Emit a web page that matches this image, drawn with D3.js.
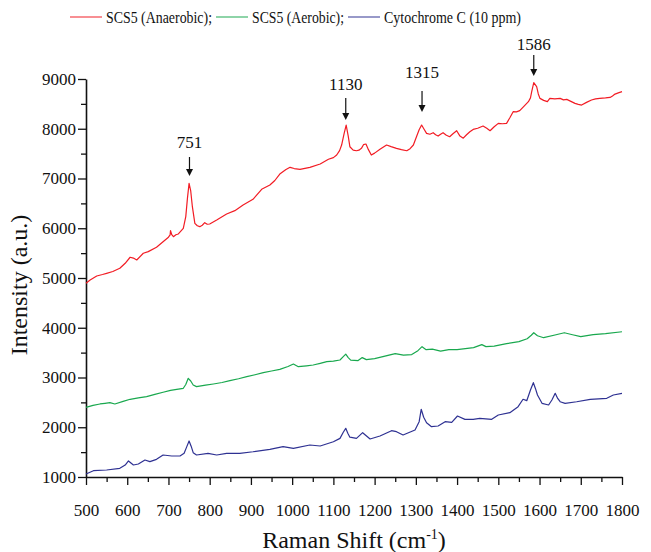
<!DOCTYPE html>
<html>
<head>
<meta charset="utf-8">
<script src="https://cdn.jsdelivr.net/npm/d3@7"></script>
<style>
  body { margin: 0; background: #fff; }
  svg text { font-family: "Liberation Serif", "Times New Roman", serif; fill: #111; }
</style>
</head>
<body>
<div id="chart"></div>
<script>
// series: [raman shift, intensity]
const anaerobic = [
  [500,4894],[510,4960],[526,5040],[540,5070],[550,5094],[565,5130],[582,5195],[595,5296],[607,5417],[615,5400],
  [623,5362],[639,5497],[651,5530],[671,5618],[692,5764],[700,5820],[704,5865],[705,5952],[708,5870],[712,5831],
  [718,5870],[724,5885],[736,5999],[742,6234],[746,6600],[750,6904],[754,6750],[758,6433],[764,6099],[770,6050],
  [776,6032],[782,6060],[788,6113],[794,6080],[800,6086],[817,6166],[841,6287],[861,6354],[881,6469],[905,6582],
  [926,6783],[946,6870],[958,6960],[970,7090],[985,7180],[995,7225],[1005,7200],[1019,7185],[1043,7225],[1068,7292],
  [1088,7386],[1100,7420],[1108,7472],[1115,7560],[1120,7673],[1126,7900],[1131,8075],[1136,7850],[1140,7639],[1148,7570],
  [1156,7558],[1162,7570],[1168,7606],[1173,7680],[1179,7693],[1185,7580],[1192,7472],[1200,7510],[1213,7586],[1229,7673],
  [1240,7640],[1253,7606],[1265,7580],[1278,7558],[1286,7600],[1294,7673],[1302,7850],[1308,7980],[1314,8075],[1320,7990],
  [1326,7907],[1334,7890],[1342,7920],[1348,7880],[1354,7853],[1360,7890],[1366,7920],[1374,7870],[1382,7840],[1390,7900],
  [1399,7960],[1407,7853],[1415,7810],[1423,7880],[1431,7940],[1439,7987],[1450,8010],[1463,8055],[1472,8010],[1480,7960],
  [1490,8040],[1500,8108],[1510,8100],[1520,8108],[1528,8220],[1536,8343],[1544,8340],[1552,8363],[1562,8450],[1573,8544],
  [1578,8620],[1581,8745],[1586,8926],[1593,8845],[1597,8700],[1601,8610],[1610,8570],[1619,8544],[1625,8610],[1637,8600],
  [1650,8610],[1658,8580],[1666,8590],[1676,8550],[1686,8510],[1694,8490],[1702,8476],[1714,8530],[1726,8577],[1736,8600],
  [1746,8610],[1760,8620],[1771,8630],[1777,8660],[1783,8697],[1791,8720],[1800,8745]
];
const aerobic = [
  [500,2401],[517,2440],[534,2468],[546,2480],[558,2494],[570,2468],[590,2520],[607,2562],[627,2590],[647,2615],
  [667,2660],[687,2703],[705,2740],[720,2763],[736,2783],[742,2860],[748,2984],[754,2930],[760,2850],[768,2816],
  [790,2845],[809,2870],[830,2900],[849,2936],[870,2975],[890,3016],[910,3055],[930,3097],[950,3130],[970,3164],
  [990,3220],[1003,3271],[1015,3217],[1035,3235],[1051,3251],[1068,3285],[1084,3318],[1100,3330],[1116,3352],[1124,3420],
  [1130,3470],[1136,3400],[1142,3350],[1160,3340],[1170,3400],[1180,3360],[1200,3380],[1230,3440],[1250,3480],[1270,3450],
  [1290,3460],[1305,3540],[1315,3620],[1325,3560],[1340,3570],[1360,3530],[1380,3560],[1400,3560],[1420,3580],[1440,3600],
  [1460,3660],[1470,3620],[1490,3630],[1520,3680],[1550,3720],[1570,3780],[1580,3850],[1586,3900],[1595,3840],[1610,3800],
  [1640,3860],[1660,3900],[1680,3860],[1700,3820],[1730,3860],[1760,3880],[1800,3920]
];
const cytochrome = [
  [500,1060],[518,1127],[550,1141],[582,1175],[595,1241],[603,1322],[615,1241],[627,1261],[643,1342],[655,1308],
  [671,1355],[687,1442],[708,1422],[728,1422],[738,1476],[744,1600],[750,1724],[755,1620],[760,1489],[768,1442],
  [796,1476],[817,1442],[841,1476],[873,1476],[905,1508],[946,1557],[978,1610],[1003,1577],[1043,1643],[1068,1623],
  [1100,1709],[1116,1777],[1124,1900],[1130,1978],[1135,1880],[1140,1800],[1156,1777],[1171,1891],[1189,1764],[1213,1824],
  [1241,1931],[1253,1911],[1269,1844],[1298,1945],[1308,2112],[1313,2361],[1319,2200],[1326,2092],[1338,2011],[1354,2025],
  [1371,2112],[1387,2099],[1401,2226],[1419,2159],[1439,2159],[1455,2179],[1484,2159],[1500,2246],[1528,2293],[1548,2413],
  [1560,2562],[1569,2534],[1578,2750],[1585,2896],[1590,2780],[1595,2648],[1606,2481],[1622,2447],[1630,2548],[1638,2682],
  [1644,2580],[1650,2513],[1662,2481],[1690,2513],[1723,2562],[1763,2582],[1779,2648],[1800,2682]
];

const seriesNames = ["SCS5 (Anaerobic);", "SCS5 (Aerobic);", "Cytochrome C (10 ppm)"];
const seriesColors = ["#f21c24", "#19a84e", "#2e3192"];

const peakLabels = ["751", "1130", "1315", "1586"];
const peakShifts = [751, 1130, 1315, 1586];
// arrow tip / arrow tail / label baseline, in intensity units
const peakTips = [7050, 8176, 8337, 9060];
const peakTails = [7432, 8618, 8759, 9482];
const peakTextY = [7613, 8779, 9020, 9583];

const xTicks = d3.range(500, 1801, 100);
const yTicks = d3.range(1000, 9001, 1000);

const serif = "Liberation Serif";
const width = 651, height = 552;
const margin = {left: 86, right: 29, top: 79, bottom: 75};

const svg = d3.select("#chart").append("svg")
  .attr("width", width).attr("height", height)
  .style("background", "#fff");

const x = d3.scaleLinear().domain([500, 1800]).range([margin.left, width - margin.right]);
const y = d3.scaleLinear().domain([1000, 9000]).range([height - margin.bottom, margin.top]);

// minor ticks
svg.append("g")
  .attr("transform", `translate(0,${y(1000)})`)
  .call(d3.axisBottom(x).tickValues(d3.range(550, 1800, 100)).tickSize(5).tickFormat(""))
  .call(g => g.select(".domain").remove())
  .call(g => g.selectAll("line").attr("stroke", "#111").attr("stroke-width", 1.3));
svg.append("g")
  .attr("transform", `translate(${x(500)},0)`)
  .call(d3.axisLeft(y).tickValues(d3.range(1500, 9000, 1000)).tickSize(5).tickFormat(""))
  .call(g => g.select(".domain").remove())
  .call(g => g.selectAll("line").attr("stroke", "#111").attr("stroke-width", 1.3));

// major axes
const xAxis = svg.append("g")
  .attr("transform", `translate(0,${y(1000)})`)
  .call(d3.axisBottom(x).tickValues(xTicks).tickSize(8).tickSizeOuter(0).tickPadding(19).tickFormat(d3.format("d")));
const yAxis = svg.append("g")
  .attr("transform", `translate(${x(500)},0)`)
  .call(d3.axisLeft(y).tickValues(yTicks).tickSize(8).tickSizeOuter(0).tickPadding(2).tickFormat(d3.format("d")));

[xAxis, yAxis].forEach(g => {
  g.attr("font-size", 17);
  g.select(".domain").attr("stroke", "#111").attr("stroke-width", 1.6);
  g.selectAll(".tick line").attr("stroke", "#111").attr("stroke-width", 1.3);
  g.selectAll(".tick text").style("font-family", serif).attr("fill", "#222");
});

// axis titles
svg.append("text")
  .attr("x", (x(500) + x(1800)) / 2).attr("y", 548)
  .attr("text-anchor", "middle").attr("font-size", 24)
  .html('Raman Shift (cm<tspan dy="-9" font-size="14">-1</tspan><tspan dy="9">)</tspan>');
svg.append("text")
  .attr("transform", `translate(27,${(y(1000) + y(9000)) / 2 + 7}) rotate(-90)`)
  .attr("text-anchor", "middle").attr("font-size", 24)
  .text("Intensity (a.u.)");

// spectra
const line = d3.line().x(d => x(d[0])).y(d => y(d[1]));
[anaerobic, aerobic, cytochrome].forEach((data, i) => {
  svg.append("path")
    .datum(data)
    .attr("d", line)
    .attr("fill", "none")
    .attr("stroke", seriesColors[i])
    .attr("stroke-width", 1.2)
    .attr("stroke-linejoin", "round");
});

// peak annotations
peakLabels.forEach((lab, i) => {
  const px = x(peakShifts[i]);
  const tip = y(peakTips[i]);
  svg.append("line")
    .attr("x1", px).attr("x2", px)
    .attr("y1", y(peakTails[i])).attr("y2", tip - 5)
    .attr("stroke", "#111").attr("stroke-width", 1.2);
  svg.append("path")
    .attr("d", `M${px - 3.5},${tip - 7}L${px + 3.5},${tip - 7}L${px},${tip}Z`)
    .attr("fill", "#111");
  svg.append("text")
    .attr("x", px).attr("y", y(peakTextY[i]))
    .attr("text-anchor", "middle").attr("font-size", 17)
    .text(lab);
});

// legend (the reference's legend text is set narrow)
const legendWidths = [106, 92, 137];
let lx = 70;
seriesNames.forEach((name, i) => {
  svg.append("line")
    .attr("x1", lx).attr("x2", lx + 32).attr("y1", 17).attr("y2", 17)
    .attr("stroke", seriesColors[i]).attr("stroke-width", 1.4).attr("stroke-opacity", 0.7);
  svg.append("text")
    .attr("x", lx + 36).attr("y", 23)
    .attr("font-size", 17)
    .attr("textLength", legendWidths[i])
    .attr("lengthAdjust", "spacingAndGlyphs")
    .text(name);
  lx += 36 + legendWidths[i] + 4;
});
</script>
</body>
</html>
